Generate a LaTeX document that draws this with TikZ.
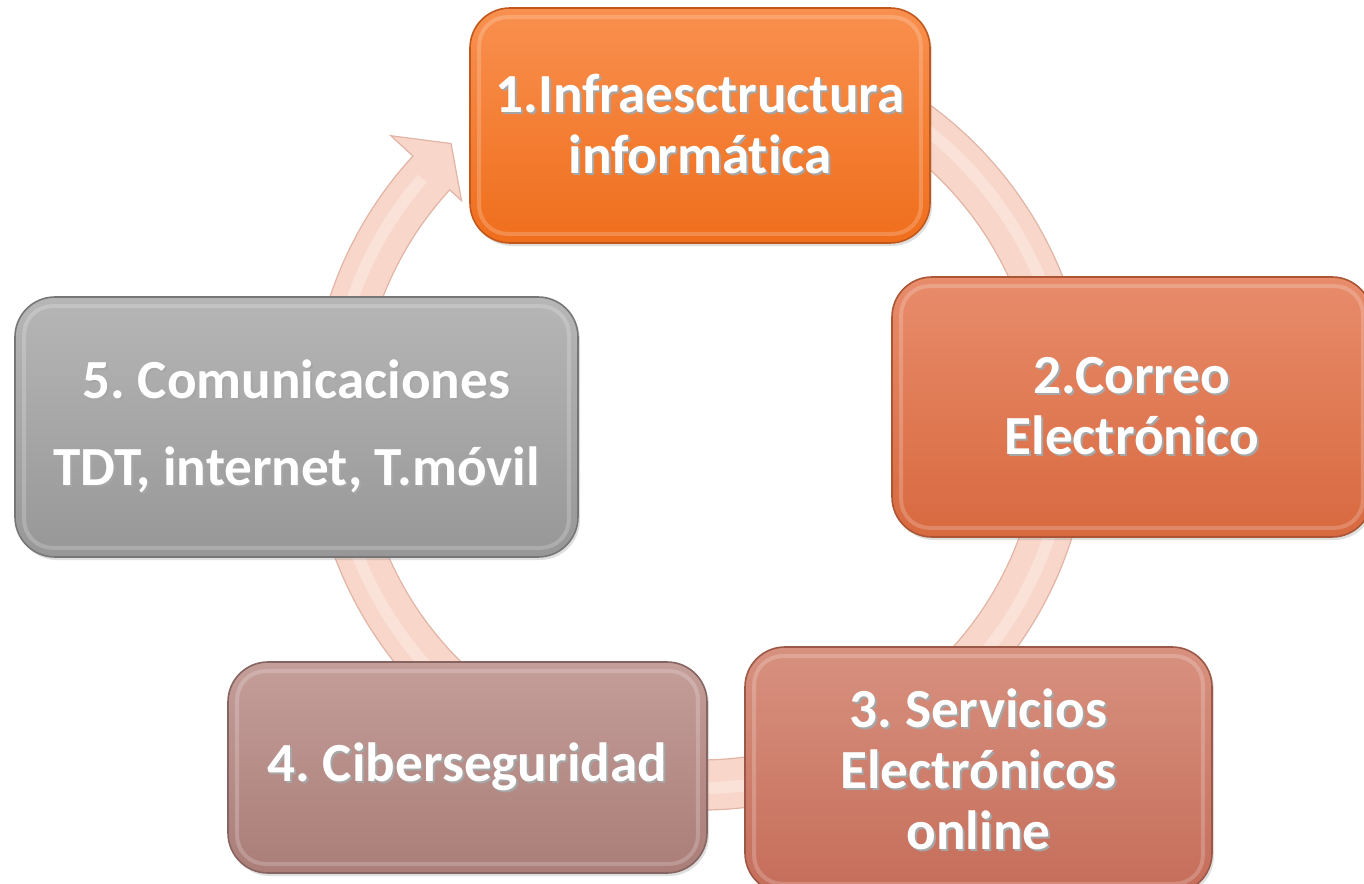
\documentclass[tikz,border=0pt]{standalone}
\usepackage{fontspec}
\setmainfont{Carlito}[Ligatures={NoCommon}]
\usetikzlibrary{shadows}
\frenchspacing

\definecolor{ringfill}{HTML}{F8D6C9}
\definecolor{ringedge}{HTML}{E2B4A6}
\definecolor{infratop}{HTML}{F9904F}
\definecolor{infrabot}{HTML}{EF6E1C}
\definecolor{infraedge}{HTML}{C0581C}
\definecolor{correotop}{HTML}{E88C6B}
\definecolor{correobot}{HTML}{D8693F}
\definecolor{correoedge}{HTML}{A95536}
\definecolor{servtop}{HTML}{D8917F}
\definecolor{servbot}{HTML}{C56D5A}
\definecolor{servedge}{HTML}{9C5847}
\definecolor{cibertop}{HTML}{C49E99}
\definecolor{ciberbot}{HTML}{AA7D78}
\definecolor{ciberedge}{HTML}{866461}
\definecolor{comtop}{HTML}{B6B6B6}
\definecolor{combot}{HTML}{979797}
\definecolor{comedge}{HTML}{767676}

\tikzset{
	box/.style={draw, rounded corners=20pt, line width=0.8pt, text=white, align=center,
		inner sep=0pt, font=\bfseries\fontsize{27.6}{30.5}\selectfont,
		drop shadow={opacity=0.25, shadow xshift=1pt, shadow yshift=-1.5pt}},
	ringband/.style={fill=ringfill, draw=ringedge, line width=0.6pt},
	bevel/.style={draw=white, opacity=0.2, line width=2pt, rounded corners=14pt}
}
\newcommand\sh[1]{\rlap{\kern1pt\raisebox{-1pt}{\textcolor{black!35}{#1}}}#1}

\begin{document}
\begin{tikzpicture}[x=0.5pt,y=-0.5pt]
	\clip (0,0) rectangle (1364,883);
	% circular arrow behind the boxes
	\begin{scope}[shift={(700,420)}]
		\path[ringband] (-80:390) arc[start angle=-80, end angle=222.6, radius=390]
			-- (222.6:420) -- (228:372) -- (222.6:324) -- (222.6:340)
			arc[start angle=222.6, end angle=-80, radius=340] -- cycle;
		\draw[ringfill!70!white, line width=6pt] (-80:368) arc[start angle=-80, end angle=221, radius=368];
	\end{scope}
	% the five boxes
	\node[box, top color=infratop, bottom color=infrabot, draw=infraedge,
		minimum width=230pt, minimum height=117.5pt] (infra) at (700,125.5)
		{\sh{1.Infraesctructura}\\\sh{informática}};
	\node[box, top color=correotop, bottom color=correobot, draw=correoedge,
		minimum width=240pt, minimum height=130pt] (correo) at (1132,407)
		{\sh{2.Correo}\\\sh{Electrónico}};
	\node[box, top color=servtop, bottom color=servbot, draw=servedge,
		minimum width=233.5pt, minimum height=123pt] (servicios) at (978.5,770)
		{\sh{3. Servicios}\\\sh{Electrónicos}\\\sh{online}};
	\node[box, top color=cibertop, bottom color=ciberbot, draw=ciberedge,
		minimum width=239.5pt, minimum height=105.5pt] (ciber) at (467.5,767.5)
		{\sh{4. Ciberseguridad}};
	\node[box, top color=comtop, bottom color=combot, draw=comedge,
		minimum width=281.5pt, minimum height=130pt] (comunic) at (296.5,427)
		{\sh{5. Comunicaciones}\\[13pt]\sh{TDT, internet, T.móvil}};
	\foreach \n in {infra,correo,servicios,ciber,comunic}
		\draw[bevel] ([shift={(10,10)}]\n.north west) rectangle ([shift={(-10,-10)}]\n.south east);
\end{tikzpicture}
\end{document}
